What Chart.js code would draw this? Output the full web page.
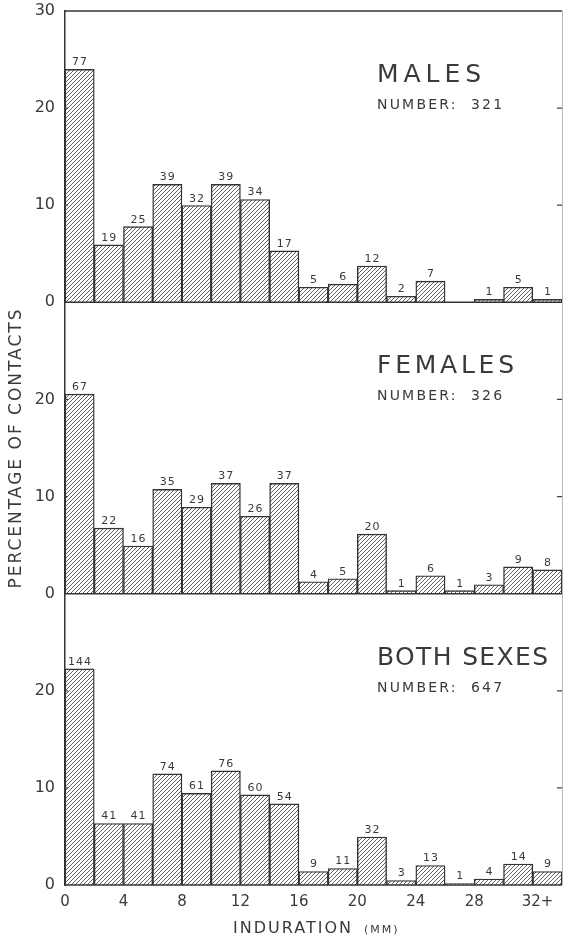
<!DOCTYPE html>
<html>
<head>
<meta charset="utf-8">
<script src="https://cdn.jsdelivr.net/npm/chart.js@4.4.1/dist/chart.umd.min.js"></script>
<style>
  html, body { margin: 0; padding: 0; background: #ffffff; }
  #wrap { position: relative; width: 564px; height: 936px; }
  canvas { display: block; }
</style>
</head>
<body>
<div id="wrap"><canvas id="chart" width="564" height="936"></canvas></div>
<script>
// Induration bins (mm): lower edge of each 2 mm class, last one is "32+"
const binStart = [0, 2, 4, 6, 8, 10, 12, 14, 16, 18, 20, 22, 24, 26, 28, 30, 32];
const xTickValues = [0, 4, 8, 12, 16, 20, 24, 28, 32];
const xTickLabels = ['0', '4', '8', '12', '16', '20', '24', '28', '32+'];
const yTickValues = [0, 10, 20, 30];

// Number of contacts in each induration class
const malesCounts   = [77, 19, 25, 39, 32, 39, 34, 17, 5, 6, 12, 2, 7, 0, 1, 5, 1];
const femalesCounts = [67, 22, 16, 35, 29, 37, 26, 37, 4, 5, 20, 1, 6, 1, 3, 9, 8];
const bothCounts    = [144, 41, 41, 74, 61, 76, 60, 54, 9, 11, 32, 3, 13, 1, 4, 14, 9];

const groupNames  = ['MALES', 'FEMALES', 'BOTH SEXES'];
const groupTotals = [321, 326, 647];

const INK = '#3a3a3a';
const FONT = 'DejaVu Sans';
// lettering widths of the panel headings, in px
const headingWidths = [104, 137, 171];

// diagonal hatching used to fill the bars
function makeHatch() {
  const s = 4;
  const c = document.createElement('canvas');
  c.width = s; c.height = s;
  const g = c.getContext('2d');
  g.fillStyle = '#ffffff';
  g.fillRect(0, 0, s, s);
  g.strokeStyle = '#505050';
  g.lineWidth = 0.9;
  g.beginPath();
  g.moveTo(0, s); g.lineTo(s, 0);
  g.moveTo(-1, 1); g.lineTo(1, -1);
  g.moveTo(s - 1, s + 1); g.lineTo(s + 1, s - 1);
  g.stroke();
  return document.getElementById('chart').getContext('2d').createPattern(c, 'repeat');
}
const hatch = makeHatch();

function toPercent(counts, total) {
  return counts.map((n, i) => ({ x: binStart[i] + 1, y: n / total * 100, count: n }));
}

const panelAxes = ['yMale', 'yFemale', 'yBoth'];
const panelCounts = [malesCounts, femalesCounts, bothCounts];

const datasets = panelCounts.map((counts, k) => ({
  label: groupNames[k],
  data: toPercent(counts, groupTotals[k]),
  yAxisID: panelAxes[k],
  backgroundColor: hatch,
  borderColor: '#333333',
  borderWidth: 1.4,
  borderSkipped: 'bottom',
  barPercentage: 1,
  categoryPercentage: 1,
  grouped: false
}));

function yAxis(showTop) {
  return {
    type: 'linear',
    position: 'left',
    stack: 'panels',
    stackWeight: 1,
    min: 0,
    max: 30,
    afterBuildTicks: s => {
      s.ticks = yTickValues.filter(v => showTop || v < 30).map(v => ({ value: v }));
    },
    afterFit: s => {
      s.width = 65;
      s.paddingTop = 0;
      s.paddingBottom = 0;
    },
    ticks: {
      color: INK,
      font: { family: FONT, size: 16 },
      padding: 10
    },
    grid: { display: false, drawTicks: false },
    border: { display: true, color: '#333333', width: 1.5 }
  };
}

// draws text with letter spacing chosen so that it spans the given width
function fitText(ctx, text, x, y, width) {
  ctx.letterSpacing = '0px';
  const natural = ctx.measureText(text).width;
  const gap = (width - natural) / (text.length - 1);
  ctx.letterSpacing = gap + 'px';
  ctx.fillText(text, x, y);
}

const decorations = {
  id: 'decorations',
  afterDatasetsDraw(chart) {
    const ctx = chart.ctx;
    const area = chart.chartArea;
    ctx.save();

    // frame: top rule, panel baselines, right edge
    ctx.strokeStyle = '#333333';
    ctx.lineWidth = 1.5;
    ctx.beginPath();
    ctx.moveTo(area.left, area.top);
    ctx.lineTo(area.right, area.top);
    panelAxes.forEach(id => {
      const y0 = chart.scales[id].getPixelForValue(0);
      ctx.moveTo(area.left, y0);
      ctx.lineTo(area.right, y0);
    });
    ctx.stroke();

    ctx.strokeStyle = '#b8b8b8';
    ctx.lineWidth = 1;
    ctx.beginPath();
    ctx.moveTo(area.right + 0.5, area.top);
    ctx.lineTo(area.right + 0.5, area.bottom);
    ctx.stroke();

    // short inward ticks at 10 and 20
    ctx.strokeStyle = '#444444';
    ctx.lineWidth = 1.2;
    ctx.beginPath();
    panelAxes.forEach(id => {
      [10, 20].forEach(v => {
        const y = chart.scales[id].getPixelForValue(v);
        ctx.moveTo(area.left, y); ctx.lineTo(area.left + 3, y);
        ctx.moveTo(area.right, y); ctx.lineTo(area.right - 5, y);
      });
    });
    ctx.stroke();

    // counts above the bars
    ctx.fillStyle = INK;
    ctx.font = '11px "' + FONT + '"';
    ctx.letterSpacing = '1px';
    ctx.textAlign = 'center';
    ctx.textBaseline = 'alphabetic';
    chart.data.datasets.forEach((ds, k) => {
      const meta = chart.getDatasetMeta(k);
      meta.data.forEach((bar, i) => {
        const n = ds.data[i].count;
        if (n > 0) ctx.fillText(String(n), bar.x + 0.5, bar.y - 4);
      });
    });

    // panel headings
    ctx.textAlign = 'left';
    panelAxes.forEach((id, k) => {
      const top = chart.scales[id].top;
      ctx.font = '25px "' + FONT + '"';
      fitText(ctx, groupNames[k], 377, top + 71, headingWidths[k]);
      ctx.font = '14px "' + FONT + '"';
      ctx.letterSpacing = '2.2px';
      ctx.fillText('NUMBER:  ' + groupTotals[k], 377, top + 98);
    });

    // axis titles
    ctx.save();
    ctx.translate(17, chart.scales.yFemale.getPixelForValue(15));
    ctx.rotate(-Math.PI / 2);
    ctx.textAlign = 'center';
    ctx.textBaseline = 'middle';
    ctx.font = '17px "' + FONT + '"';
    ctx.letterSpacing = '2px';
    ctx.fillText('PERCENTAGE OF CONTACTS', 0, 0);
    ctx.restore();

    ctx.textAlign = 'left';
    ctx.textBaseline = 'alphabetic';
    ctx.font = '16px "' + FONT + '"';
    ctx.letterSpacing = '2px';
    const t1 = 'INDURATION';
    ctx.fillText(t1, 233, 933);
    const w1 = ctx.measureText(t1).width;
    ctx.font = '11px "' + FONT + '"';
    ctx.letterSpacing = '2px';
    ctx.fillText('(MM)', 233 + w1 + 11, 933);

    ctx.restore();
  }
};

new Chart(document.getElementById('chart'), {
  type: 'bar',
  data: { datasets },
  options: {
    responsive: false,
    animation: false,
    devicePixelRatio: 1,
    layout: { padding: { top: 11, right: 2, left: 0, bottom: 0 } },
    plugins: { legend: { display: false }, tooltip: { enabled: false } },
    scales: {
      x: {
        type: 'linear',
        offset: false,
        min: 0,
        max: 34,
        afterBuildTicks: s => { s.ticks = xTickValues.map(v => ({ value: v })); },
        afterFit: s => { s.height = 51; },
        ticks: {
          color: INK,
          font: { family: FONT, size: 15 },
          padding: 8,
          maxRotation: 0,
          autoSkip: false,
          // the open-ended last class is lettered a little to the right
          callback: v => {
            const label = xTickLabels[xTickValues.indexOf(v)];
            return label.endsWith('+') ? '  ' + label : label;
          }
        },
        grid: { display: false, drawTicks: false },
        border: { display: false }
      },
      yBoth: yAxis(false),
      yFemale: yAxis(false),
      yMale: yAxis(true)
    }
  },
  plugins: [decorations]
});
</script>
</body>
</html>
